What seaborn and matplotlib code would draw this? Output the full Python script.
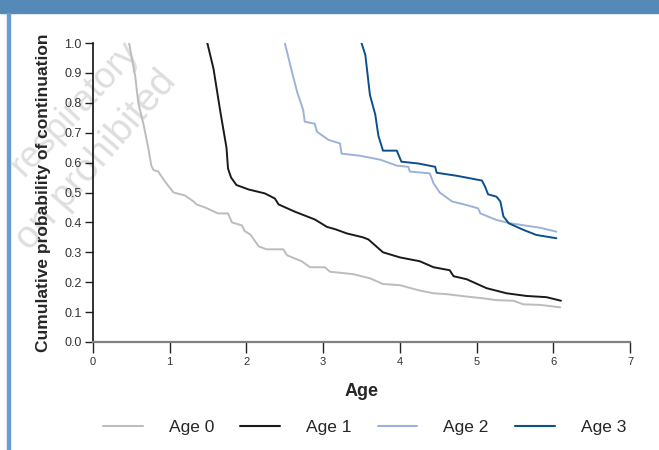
import numpy as np
import pandas as pd
import matplotlib
matplotlib.use("Agg")
import matplotlib.pyplot as plt
import seaborn as sns
from matplotlib.patches import Rectangle
from matplotlib.lines import Line2D

# values
age0_x = [0.47, 0.55, 0.59, 0.66, 0.72, 0.76, 0.79, 0.85, 0.94, 1.05, 1.20, 1.31, 1.35, 1.46,
          1.63, 1.76, 1.81, 1.94, 1.98, 2.05, 2.16, 2.26, 2.48, 2.53, 2.72, 2.83, 3.02, 3.09,
          3.39, 3.61, 3.78, 4.00, 4.26, 4.44, 4.61, 4.87, 5.09, 5.26, 5.48, 5.61, 5.83, 6.09]
age0_y = [1.00, 0.89, 0.80, 0.726, 0.65, 0.59, 0.575, 0.57, 0.536, 0.50, 0.49, 0.47, 0.46, 0.45,
          0.43, 0.43, 0.40, 0.39, 0.37, 0.36, 0.32, 0.31, 0.31, 0.29, 0.27, 0.25, 0.25, 0.235,
          0.227, 0.213, 0.194, 0.19, 0.172, 0.163, 0.16, 0.152, 0.146, 0.14, 0.138, 0.126, 0.124, 0.116]

age1_x = [1.49, 1.57, 1.66, 1.74, 1.76, 1.80, 1.87, 2.03, 2.24, 2.37, 2.42, 2.63, 2.89, 3.05,
          3.16, 3.31, 3.52, 3.59, 3.78, 4.00, 4.26, 4.44, 4.65, 4.70, 4.87, 5.13, 5.39, 5.65,
          5.91, 6.10]
age1_y = [1.00, 0.915, 0.77, 0.65, 0.58, 0.55, 0.525, 0.51, 0.497, 0.48, 0.46, 0.436, 0.41, 0.385,
          0.377, 0.363, 0.35, 0.343, 0.30, 0.283, 0.27, 0.25, 0.24, 0.22, 0.21, 0.18, 0.163, 0.154,
          0.15, 0.138]

age2_x = [2.50, 2.61, 2.66, 2.74, 2.76, 2.89, 2.92, 3.07, 3.22, 3.24, 3.48, 3.74, 3.96, 4.11,
          4.13, 4.39, 4.44, 4.52, 4.68, 4.87, 5.02, 5.05, 5.26, 5.44, 5.83, 6.04]
age2_y = [1.00, 0.887, 0.837, 0.776, 0.737, 0.73, 0.703, 0.676, 0.664, 0.63, 0.623, 0.61, 0.59, 0.586,
          0.57, 0.564, 0.53, 0.50, 0.47, 0.458, 0.447, 0.43, 0.408, 0.397, 0.382, 0.369]

age3_x = [3.50, 3.55, 3.61, 3.68, 3.72, 3.78, 3.96, 4.02, 4.24, 4.46, 4.48, 4.74, 5.07, 5.11,
          5.15, 5.26, 5.31, 5.35, 5.42, 5.61, 5.78, 6.04]
age3_y = [1.00, 0.96, 0.826, 0.76, 0.69, 0.64, 0.64, 0.603, 0.597, 0.586, 0.566, 0.556, 0.54, 0.52,
          0.494, 0.486, 0.47, 0.42, 0.397, 0.375, 0.358, 0.347]

groups = ["Age 0", "Age 1", "Age 2", "Age 3"]
colors = ["#bcbcbc", "#1a1a1a", "#9db2d8", "#0b4f8e"]
x_ticks = [0, 1, 2, 3, 4, 5, 6, 7]
y_ticks = [0.0, 0.1, 0.2, 0.3, 0.4, 0.5, 0.6, 0.7, 0.8, 0.9, 1.0]

frames = []
for g, xs, ys in zip(groups, [age0_x, age1_x, age2_x, age3_x], [age0_y, age1_y, age2_y, age3_y]):
    frames.append(pd.DataFrame({"age": xs, "prob": ys, "group": g}))
df = pd.concat(frames, ignore_index=True)

sns.set_style("white")
plt.rcParams["font.family"] = ["Liberation Sans", "DejaVu Sans"]

fig = plt.figure(figsize=(6.59, 4.5), dpi=100)

# faint watermark behind everything
fig.text(24 / 659, 1 - 178 / 450, "respiratory", rotation=47, rotation_mode="anchor",
         ha="left", va="baseline", fontsize=26, color="#dedede", zorder=-1)
fig.text(30 / 659, 1 - 252 / 450, "on prohibited", rotation=49, rotation_mode="anchor",
         ha="left", va="baseline", fontsize=28, color="#dedede", zorder=-1)

ax = fig.add_axes([93 / 659, 1 - 342 / 450, (630 - 93) / 659, (342 - 43) / 450])
ax.patch.set_alpha(0)

sns.lineplot(data=df, x="age", y="prob", hue="group", palette=dict(zip(groups, colors)),
             estimator=None, sort=False, linewidth=1.4, legend=False, ax=ax)

ax.set_xlim(0, 7)
ax.set_ylim(0, 1)
ax.set_xticks(x_ticks)
ax.set_yticks(y_ticks)
ax.set_xticklabels([str(t) for t in x_ticks], fontsize=8, color="#333333")
ax.set_yticklabels(["%.1f" % t for t in y_ticks], fontsize=9, color="#333333")
ax.tick_params(axis="x", direction="out", length=8, width=1, color="#222222", pad=3, bottom=True)
ax.tick_params(axis="y", direction="out", length=6, width=1, color="#222222", pad=2, left=True)
for s in ["top", "right"]:
    ax.spines[s].set_visible(False)
ax.spines["left"].set_color("#111111")
ax.spines["left"].set_linewidth(1.2)
ax.spines["bottom"].set_color("#808080")
ax.spines["bottom"].set_linewidth(1.6)
ax.grid(False)

ax.set_xlabel("Age", fontsize=13, fontweight="bold", labelpad=11)
ax.set_ylabel("Cumulative probability of continuation", fontsize=12.5, fontweight="bold", labelpad=10)

handles = [Line2D([0], [0], color=c, lw=1.5) for c in colors]
fig.legend(handles, groups, loc="center", bbox_to_anchor=(0.553, 1 - 427 / 450), ncol=4,
           frameon=False, fontsize=12.5, handlelength=2.3, handletextpad=1.5, columnspacing=1.5)

# header band and left rule
fig.patches.append(Rectangle((0, 1 - 13 / 450), 1, 13 / 450, transform=fig.transFigure,
                             color="#5589b8", zorder=0))
fig.patches.append(Rectangle((7 / 659, 0), 2.5 / 659, 1 - 13 / 450, transform=fig.transFigure,
                             color="#6b9bcf", zorder=0))

fig.savefig("out.png", dpi=100)
